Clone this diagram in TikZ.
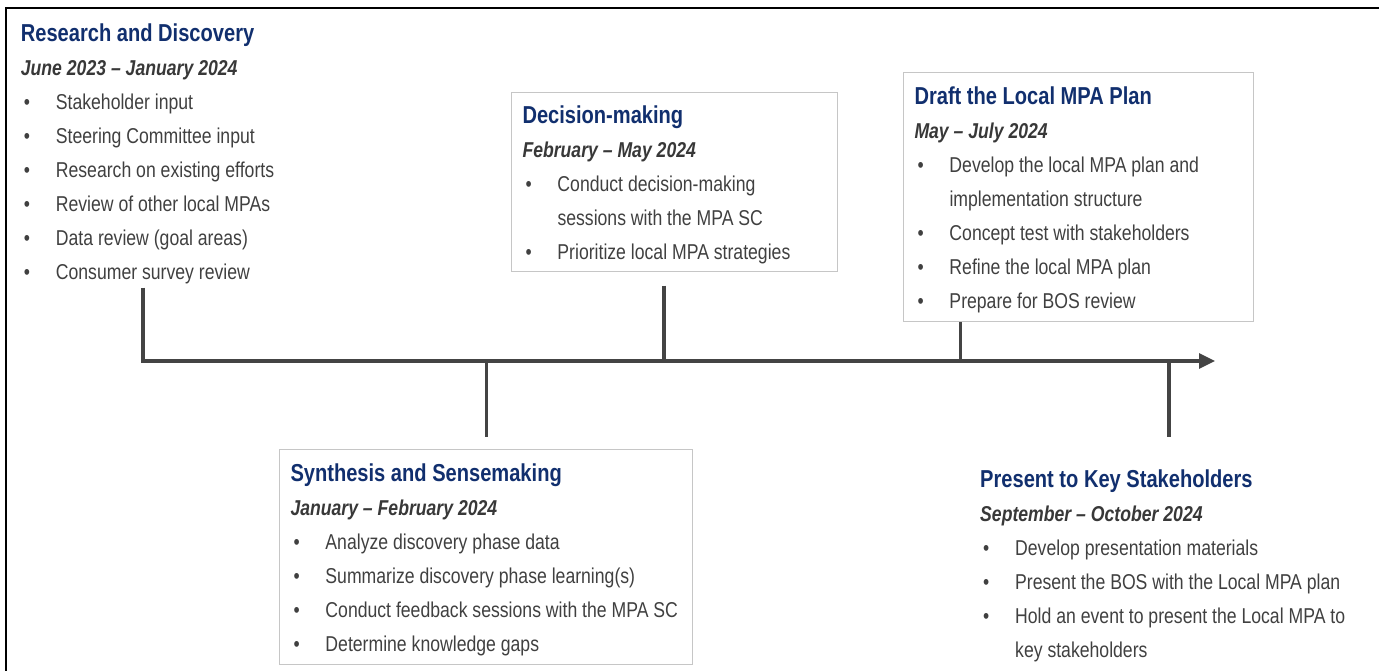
\documentclass[tikz,border=0pt]{standalone}
\usepackage{fontspec}
\setmainfont{Liberation Sans}[FakeStretch=0.82]
\usetikzlibrary{arrows.meta}

\definecolor{titleblue}{HTML}{112F6E}
\definecolor{bodygray}{HTML}{404040}
\definecolor{dategray}{HTML}{383838}
\definecolor{linegray}{HTML}{444444}
\definecolor{boxgray}{HTML}{C6C6C6}

\newcommand{\phasetitle}[1]{{\fontsize{24.5}{34}\selectfont\bfseries\color{titleblue}\rule{0pt}{22pt}#1}}
\newcommand{\phasedate}[1]{{\bfseries\itshape\color{dategray}#1}}
\newcommand{\pitem}{\hspace*{3pt}\makebox[32pt][l]{•}}
\newcommand{\pcont}{\hspace*{35pt}}

\tikzset{
    phase/.style={anchor=north west, inner sep=0pt, align=left, text=bodygray,
        font=\fontsize{21.5}{34}\selectfont},
    panel/.style={anchor=north west, draw=boxgray, line width=0.9pt, inner sep=0pt},
    axis/.style={draw=linegray, line width=3.2pt},
    tick/.style={draw=linegray, line width=3.2pt}
}

\begin{document}
\begin{tikzpicture}[x=1pt, y=-1pt]
        \useasboundingbox (0,0) rectangle (1379,671);
        \draw[line width=2pt] (6,671) -- (6,8) -- (1379,8);

        \node[phase] (R1) at (20.7,19.3) {\phasetitle{Research and Discovery}\\
            \phasedate{June 2023 – January 2024}\\
            \pitem Stakeholder input\\
            \pitem Steering Committee input\\
            \pitem Research on existing efforts\\
            \pitem Review of other local MPAs\\
            \pitem Data review (goal areas)\\
            \pitem Consumer survey review};

        \node[panel, minimum width=326pt, minimum height=179pt] (C0) at (511.3,92.3) {};
        \node[phase] (C1) at (522.3,100.9) {\phasetitle{Decision-making}\\
            \phasedate{February – May 2024}\\
            \pitem Conduct decision-making\\
            \pcont sessions with the MPA SC\\
            \pitem Prioritize local MPA strategies};

        \node[panel, minimum width=349.4pt, minimum height=249pt] (D0) at (903.3,72.3) {};
        \node[phase] (D1) at (914.3,82.5) {\phasetitle{Draft the Local MPA Plan}\\
            \phasedate{May – July 2024}\\
            \pitem Develop the local MPA plan and\\
            \pcont implementation structure\\
            \pitem Concept test with stakeholders\\
            \pitem Refine the local MPA plan\\
            \pitem Prepare for BOS review};

        \node[panel, minimum width=412.7pt, minimum height=214.7pt] (S0) at (279.3,449.3) {};
        \node[phase] (S1) at (290.3,459.7) {\phasetitle{Synthesis and Sensemaking}\\
            \phasedate{January – February 2024}\\
            \pitem Analyze discovery phase data\\
            \pitem Summarize discovery phase learning(s)\\
            \pitem Conduct feedback sessions with the MPA SC\\
            \pitem Determine knowledge gaps};

        \node[phase] (P1) at (980,465.7) {\phasetitle{Present to Key Stakeholders}\\
            \phasedate{September – October 2024}\\
            \pitem Develop presentation materials\\
            \pitem Present the BOS with the Local MPA plan\\
            \pitem Hold an event to present the Local MPA to\\
            \pcont key stakeholders};

        \coordinate (R2) at (143,287.5);
        \coordinate (A2) at (1215,361);
        \draw[axis, -{Triangle[length=16pt, width=15pt]}] (R2) |- (A2);

        \coordinate (C2) at (664,285.7);
        \draw[tick] (C2) -- (C2 |- A2);

        \coordinate (D2) at (960.7,361);
        \draw[tick] (D2 |- D0.south) -- (D2);

        \coordinate (S2) at (486.7,436.7);
        \draw[tick] (S2 |- A2) -- (S2);

        \coordinate (P2) at (1169,436.7);
        \draw[tick] (P2 |- A2) -- (P2);
    \end{tikzpicture}
\end{document}
